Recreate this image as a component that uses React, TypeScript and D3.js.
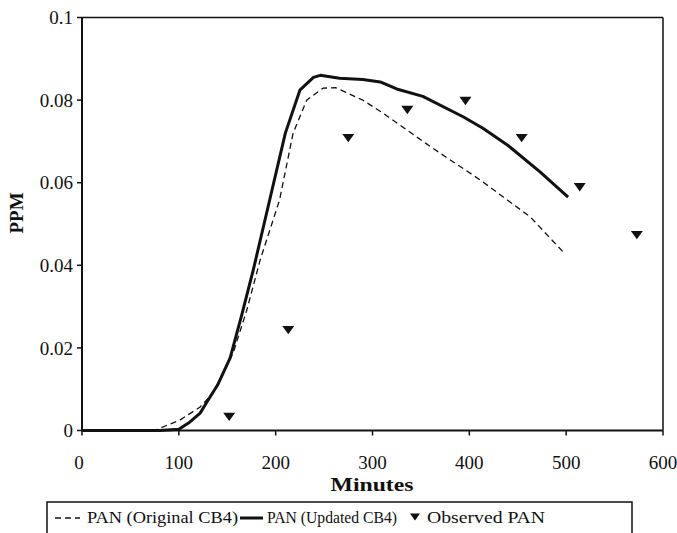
import React from "react";
import * as d3 from "d3";

const updatedX = [0, 50, 80, 100, 110, 122, 129, 140, 153, 165, 177, 190, 210, 225, 239, 246, 266, 290, 308, 325, 352, 394, 414, 440, 473, 502];
const updatedY = [0, 0, 0, 0.0003, 0.0018, 0.0042, 0.0069, 0.011, 0.0176, 0.028, 0.039, 0.052, 0.072, 0.0824, 0.0855, 0.086, 0.0853, 0.085, 0.0844, 0.0827, 0.0809, 0.0759, 0.0732, 0.069, 0.0626, 0.0565];

const origX = [0, 75, 88, 101, 122, 135, 156, 170, 184, 204, 218, 232, 249, 262, 290, 311, 360, 411, 463, 497];
const origY = [0, 0, 0.0013, 0.0025, 0.0057, 0.009, 0.0187, 0.029, 0.0413, 0.0558, 0.072, 0.08, 0.0829, 0.083, 0.08, 0.0768, 0.0687, 0.0607, 0.0517, 0.0432];

const obsX = [152, 213, 275, 336, 396, 454, 514, 573];
const obsY = [0.0033, 0.0243, 0.0708, 0.0776, 0.0798, 0.0708, 0.0589, 0.0473];

const xTicks = [0, 100, 200, 300, 400, 500, 600];
const yTicks = [0, 0.02, 0.04, 0.06, 0.08, 0.1];
const yTickLabels = ["0", "0.02", "0.04", "0.06", "0.08", "0.1"];

const legendLabels = ["PAN (Original CB4)", "PAN (Updated CB4)", "Observed PAN"];

export default function App() {
  const x = d3.scaleLinear().domain([0, 600]).range([82, 663]);
  const y = d3.scaleLinear().domain([0, 0.1]).range([430.5, 17.5]);

  const line = d3
    .line<[number, number]>()
    .x((d) => x(d[0]))
    .y((d) => y(d[1]));

  const updPath = line(updatedX.map((v, i) => [v, updatedY[i]]) as [number, number][]) || "";
  const origPath = line(origX.map((v, i) => [v, origY[i]]) as [number, number][]) || "";

  const tri = (cx: number, cy: number, s = 6) =>
    `M${cx - s},${cy - s * 0.7}L${cx + s},${cy - s * 0.7}L${cx},${cy + s * 0.7}Z`;

  const font = "'Liberation Serif', 'Times New Roman', serif";

  return (
    <svg
      width={677}
      height={533}
      style={{ position: "absolute", left: 0, top: 0, background: "#fff" }}
      fontFamily={font}
    >
      <rect x={0} y={0} width={677} height={533} fill="#fff" />
      {/* frame */}
      <line x1={x(0)} x2={x(600)} y1={y(0.1)} y2={y(0.1)} stroke="#111" strokeWidth={1.5} />
      <line x1={x(600)} x2={x(600)} y1={y(0.1)} y2={y(0)} stroke="#111" strokeWidth={1.5} />
      <line x1={x(0)} x2={x(0)} y1={y(0.1)} y2={y(0)} stroke="#111" strokeWidth={2} />
      <line x1={x(0)} x2={x(600)} y1={y(0)} y2={y(0)} stroke="#111" strokeWidth={2} />

      {/* y ticks */}
      {yTicks.map((t, i) => (
        <g key={"y" + i}>
          <line x1={x(0) - 5} x2={x(0)} y1={y(t)} y2={y(t)} stroke="#111" strokeWidth={1.5} />
          <text x={73} y={y(t)} dy="0.35em" textAnchor="end" fontSize={19} fill="#111">
            {yTickLabels[i]}
          </text>
        </g>
      ))}
      {/* x ticks */}
      {xTicks.map((t, i) => (
        <g key={"x" + i}>
          <line x1={x(t)} x2={x(t)} y1={y(0)} y2={y(0) + 5} stroke="#111" strokeWidth={1.5} />
          <text x={x(t) - (t === 0 ? 3 : 0)} y={469} textAnchor="middle" fontSize={19} fill="#111">
            {t}
          </text>
        </g>
      ))}

      {/* axis titles */}
      <text x={372} y={491} textAnchor="middle" fontSize={19} fontWeight="bold" fill="#111" textLength={83} lengthAdjust="spacingAndGlyphs">
        Minutes
      </text>
      <text
        transform={`translate(23,${213}) rotate(-90)`}
        textAnchor="middle"
        fontSize={19}
        fontWeight="bold"
        fill="#111"
      >
        PPM
      </text>

      {/* lines */}
      <path d={origPath} fill="none" stroke="#111" strokeWidth={1.3} strokeDasharray="6,4" />
      <path d={updPath} fill="none" stroke="#111" strokeWidth={3} strokeLinejoin="round" />

      {/* observed */}
      {obsX.map((v, i) => (
        <path key={"o" + i} d={tri(x(v), y(obsY[i]))} fill="#111" />
      ))}

      {/* legend */}
      <rect x={47} y={502} width={585} height={45} fill="#fff" stroke="#111" strokeWidth={1.5} />
      <line x1={55} x2={80} y1={518} y2={518} stroke="#111" strokeWidth={1.3} strokeDasharray="6,4" />
      <text x={87} y={523} fontSize={16} fill="#111" textLength={151} lengthAdjust="spacingAndGlyphs">
        {legendLabels[0]}
      </text>
      <line x1={240} x2={263} y1={518} y2={518} stroke="#111" strokeWidth={3} />
      <text x={267} y={523} fontSize={16} fill="#111" textLength={130} lengthAdjust="spacingAndGlyphs">
        {legendLabels[1]}
      </text>
      <path d={tri(415, 517, 5)} fill="#111" />
      <text x={427} y={523} fontSize={16} fill="#111" textLength={118} lengthAdjust="spacingAndGlyphs">
        {legendLabels[2]}
      </text>
    </svg>
  );
}
